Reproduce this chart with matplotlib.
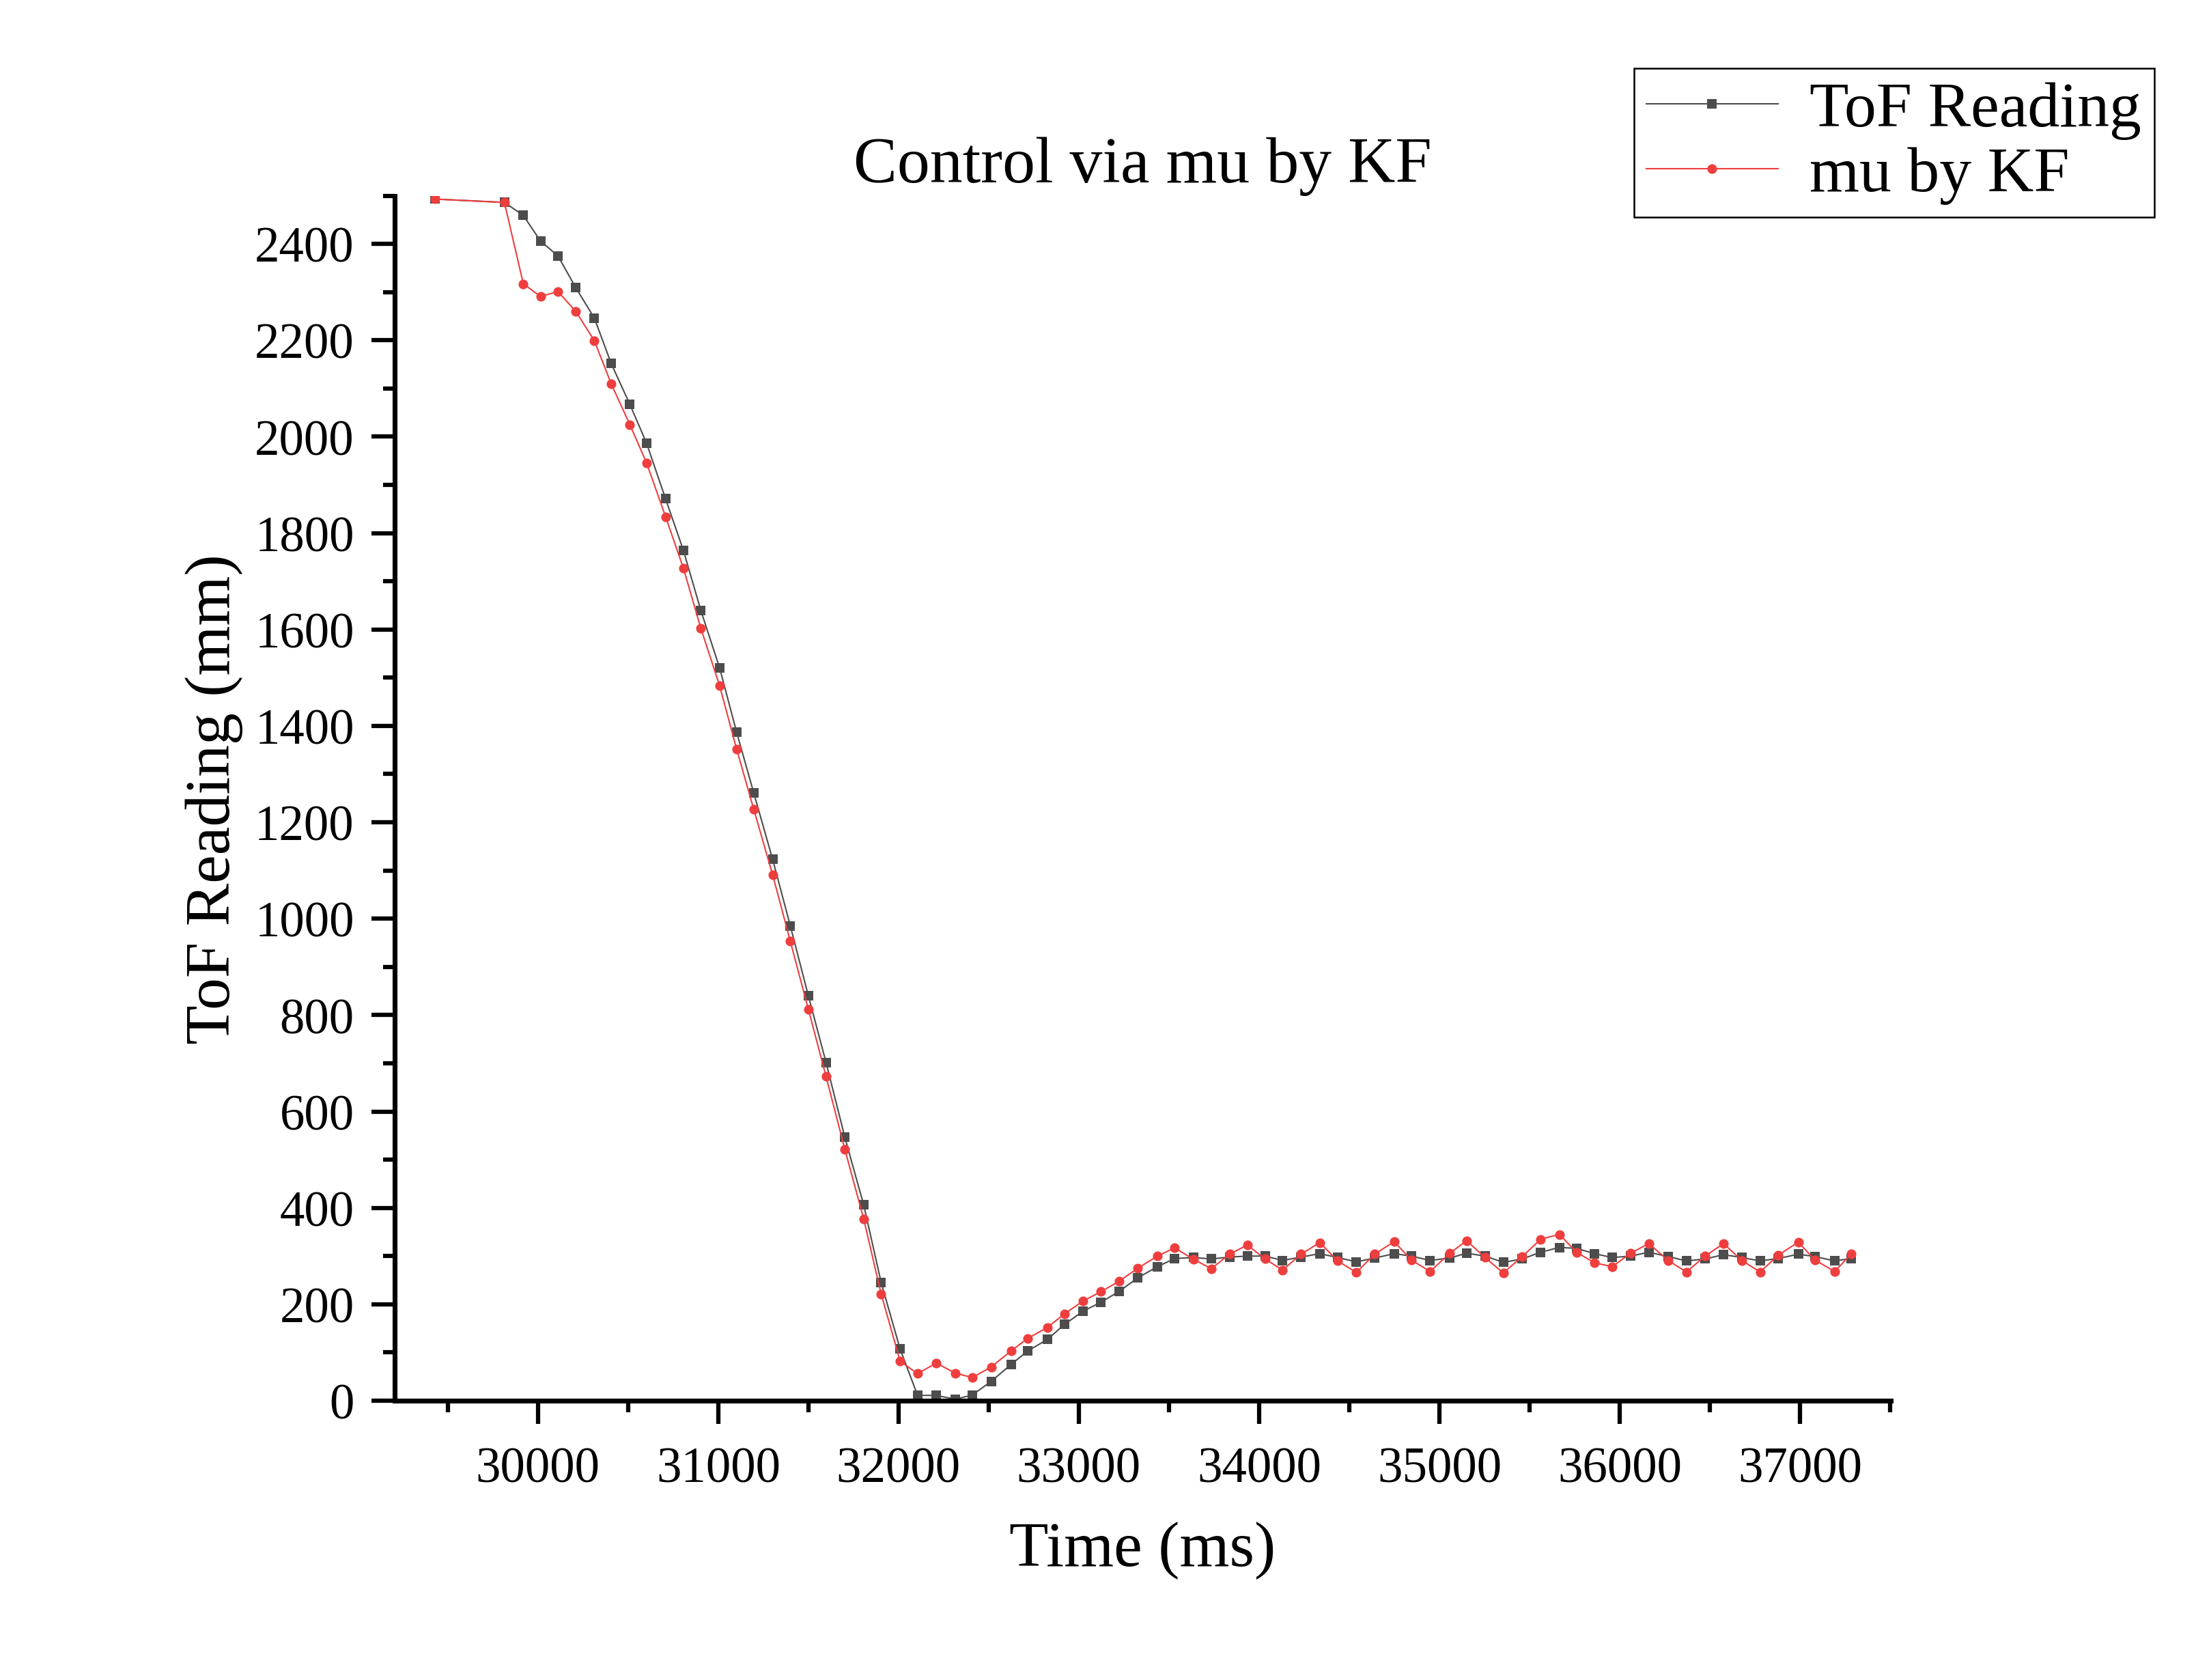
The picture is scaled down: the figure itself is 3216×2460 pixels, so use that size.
import matplotlib
matplotlib.use("Agg")
import matplotlib.pyplot as plt
from matplotlib.ticker import MultipleLocator

plt.rcParams["font.family"] = ["Liberation Serif", "DejaVu Serif"]

# time stamps (ms) shared by both series
time_ms = [29427, 29814, 29919, 30014, 30111, 30210, 30313, 30406, 30510, 30603,
           30708, 30807, 30904, 31008, 31102, 31197, 31302, 31400, 31500, 31598,
           31702, 31807, 31904, 32009, 32106, 32209, 32316, 32410, 32514, 32624,
           32716, 32826, 32920, 33025, 33122, 33225, 33328, 33436, 33532, 33637,
           33735, 33837, 33935, 34033, 34131, 34233, 34337, 34436, 34540, 34641,
           34750, 34844, 34949, 35058, 35152, 35253, 35355, 35460, 35562, 35666,
           35761, 35861, 35959, 36061, 36162, 36269, 36370, 36475, 36576, 36678,
           36779, 36881, 36991, 37083, 37193, 37286]

tof_reading = [2493, 2486, 2459, 2406, 2375, 2309, 2246, 2152, 2067, 1986,
               1871, 1764, 1639, 1520, 1387, 1261, 1123, 985, 840, 702,
               547, 406, 245, 107, 11, 11, 3, 12, 40, 75,
               103, 127, 158, 186, 204, 227, 255, 278, 295, 297,
               294, 298, 300, 300, 291, 298, 305, 297, 288, 296,
               305, 300, 291, 296, 306, 300, 287, 294, 308, 318,
               316, 305, 297, 300, 308, 299, 290, 294, 303, 297,
               290, 295, 304, 299, 290, 295]

mu_kf = [2493, 2486, 2317, 2291, 2301, 2260, 2199, 2110, 2025, 1945,
         1834, 1727, 1602, 1483, 1352, 1227, 1091, 953, 812, 673,
         522, 377, 221, 82, 56, 78, 57, 48, 70, 103,
         129, 152, 180, 207, 226, 248, 275, 300, 317, 293,
         274, 304, 323, 294, 271, 304, 328, 290, 266, 304,
         330, 292, 268, 306, 332, 297, 265, 299, 335, 345,
         308, 286, 278, 306, 326, 291, 267, 300, 326, 291,
         267, 302, 329, 292, 268, 305]

fig = plt.figure(figsize=(10.72, 8.203), dpi=300)
ax = fig.add_axes([0.1797, 0.1662, 0.6813, 0.717])

ax.plot(time_ms, tof_reading, color="#4d4d4d", linewidth=0.5, marker="s",
        markersize=3.2, markeredgewidth=0, label="ToF Reading")
ax.plot(time_ms, mu_kf, color="#ef3e3e", linewidth=0.5, marker="o",
        markersize=3.4, markeredgewidth=0, label="mu by KF")

ax.set_xlim(29205, 37504)
ax.set_ylim(0, 2500)
ax.xaxis.set_major_locator(MultipleLocator(1000))
ax.xaxis.set_minor_locator(MultipleLocator(500))
ax.yaxis.set_major_locator(MultipleLocator(200))
ax.yaxis.set_minor_locator(MultipleLocator(100))
ax.set_xticks(range(30000, 37001, 1000))

for side in ("top", "right"):
    ax.spines[side].set_visible(False)
for side in ("left", "bottom"):
    ax.spines[side].set_linewidth(1.7)

ax.tick_params(which="major", direction="out", length=8.2, width=1.5,
               labelsize=17.5)
ax.tick_params(which="minor", direction="out", length=4, width=1.5)
ax.tick_params(axis="x", which="major", pad=8)
ax.tick_params(axis="y", which="major", pad=6)

ax.set_xlabel("Time (ms)", fontsize=22.5, labelpad=10)
ax.set_ylabel("ToF Reading (mm)", fontsize=22.5, labelpad=4)
ax.set_title("Control via mu by KF", fontsize=23, pad=3)

leg = ax.legend(loc="upper right", bbox_to_anchor=(0.981, 0.959),
                bbox_transform=fig.transFigure, fontsize=22.5, frameon=True,
                fancybox=False, framealpha=1, edgecolor="black",
                borderaxespad=0, handlelength=2.05, handletextpad=0.5,
                labelspacing=0.1, borderpad=0.2, markerscale=1.0)
leg.get_frame().set_linewidth(0.6)

fig.savefig("out.png", dpi=300)
